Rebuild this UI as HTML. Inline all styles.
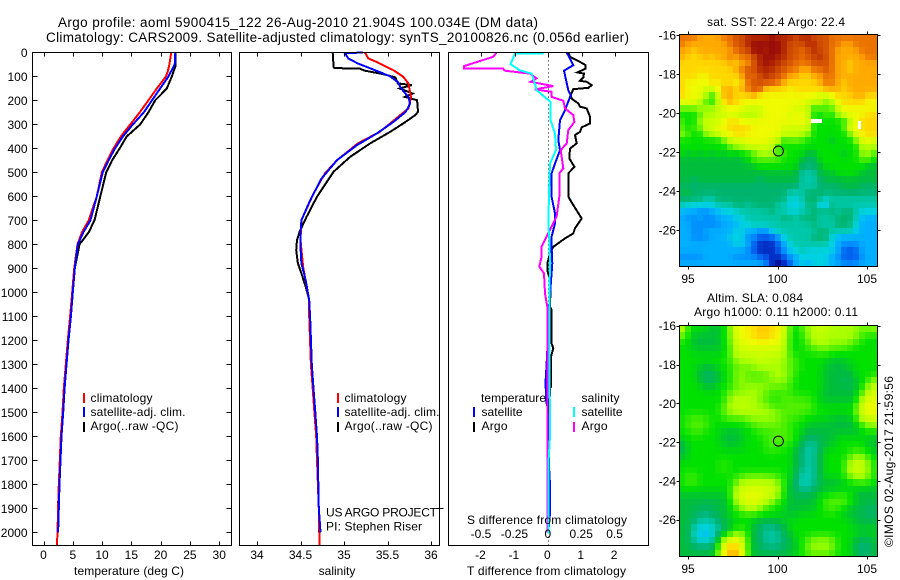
<!DOCTYPE html>
<html>
<head>
<meta charset="utf-8">
<title>Argo profile</title>
<style>
html,body{margin:0;padding:0;background:#fff;}
svg{display:block;}
text{font-family:"Liberation Sans",sans-serif;font-size:12px;fill:#000;}
.t14{font-size:13.5px;}
</style>
</head>
<body>
<svg id="fig" xmlns="http://www.w3.org/2000/svg" width="900" height="580" viewBox="0 0 900 580">
<rect x="0" y="0" width="900" height="580" fill="#fff"/>
<text class="t14" x="58" y="27" textLength="480" lengthAdjust="spacing">Argo profile: aoml 5900415_122 26-Aug-2010 21.904S 100.034E (DM data)</text>
<text class="t14" x="46" y="42" textLength="583" lengthAdjust="spacing">Climatology: CARS2009. Satellite-adjusted climatology: synTS_20100826.nc (0.056d earlier)</text>
<g id="heat"></g>
<g id="series"></g>
<g id="axes" fill="none" stroke="#000" stroke-width="1" shape-rendering="crispEdges"></g>
<g id="labels"></g>

<text x="74" y="575" textLength="110" lengthAdjust="spacing">temperature (deg C)</text>
<text x="337" y="575" text-anchor="middle">salinity</text>
<text x="467" y="575" textLength="159" lengthAdjust="spacing">T difference from climatology</text>
<text x="467" y="524" textLength="160" lengthAdjust="spacing">S difference from climatology</text>

<g shape-rendering="crispEdges">
<rect x="83" y="393" width="2" height="10" fill="#f00"/>
<rect x="83" y="407" width="2" height="10" fill="#00f"/>
<rect x="83" y="422" width="2" height="10" fill="#000"/>
</g>
<text x="90.5" y="402" textLength="62" lengthAdjust="spacing">climatology</text>
<text x="90.5" y="416" textLength="95" lengthAdjust="spacing">satellite-adj. clim.</text>
<text x="90.5" y="430" textLength="88" lengthAdjust="spacing">Argo(..raw -QC)</text>

<g shape-rendering="crispEdges">
<rect x="337" y="393" width="2" height="10" fill="#f00"/>
<rect x="337" y="407" width="2" height="10" fill="#00f"/>
<rect x="337" y="422" width="2" height="10" fill="#000"/>
</g>
<text x="344.5" y="402" textLength="62" lengthAdjust="spacing">climatology</text>
<text x="344.5" y="416" textLength="95" lengthAdjust="spacing">satellite-adj. clim.</text>
<text x="344.5" y="430" textLength="88" lengthAdjust="spacing">Argo(..raw -QC)</text>

<text x="326" y="516.5" textLength="111" lengthAdjust="spacing">US ARGO PROJECT</text>
<text x="326" y="530.5" textLength="96" lengthAdjust="spacing">PI: Stephen Riser</text>

<g shape-rendering="crispEdges">
<rect x="473" y="407" width="2" height="10" fill="#00f"/>
<rect x="473" y="422" width="2" height="10" fill="#000"/>
<rect x="573" y="407" width="2" height="10" fill="#0ff"/>
<rect x="573" y="422" width="2" height="10" fill="#f0f"/>
</g>
<text x="481" y="402" textLength="65" lengthAdjust="spacing">temperature</text>
<text x="481.5" y="416" textLength="41" lengthAdjust="spacing">satellite</text>
<text x="481.5" y="430" textLength="26" lengthAdjust="spacing">Argo</text>
<text x="581.5" y="402" textLength="38" lengthAdjust="spacing">salinity</text>
<text x="581.5" y="416" textLength="41" lengthAdjust="spacing">satellite</text>
<text x="581.5" y="430" textLength="26" lengthAdjust="spacing">Argo</text>

<text x="707" y="26" textLength="138" lengthAdjust="spacing">sat. SST: 22.4 Argo: 22.4</text>
<text x="707" y="302" textLength="96" lengthAdjust="spacing">Altim. SLA: 0.084</text>
<text x="694" y="316" textLength="164" lengthAdjust="spacing">Argo h1000: 0.11 h2000: 0.11</text>
<text transform="translate(893 547) rotate(-90)" textLength="171" lengthAdjust="spacing">©IMOS 02-Aug-2017 21:59:56</text>
</svg>

<script>
/* ---------- temperature profile data ---------- */
const tempClimDepth = [0,50,80,100,150,200,250,300,350,400,450,500,600,700,750,800,900,1000,1100,1200,1300,1400,1500,1600,1700,1800,1900,2000,2056];
const tempClim = [21.8,21.5,21.2,20.9,19.35,17.9,16.4,14.8,13.2,11.95,10.9,9.96,9.1,7.7,6.55,5.8,5.24,4.9,4.55,4.15,3.8,3.47,3.24,2.96,2.79,2.62,2.5,2.39,2.28];
const tempSatDepth = [0,50,80,100,150,200,250,300,350,400,450,500,600,700,750,800,900,1000,1100,1200,1300,1400,1500,1600,1700,1800,1900,2000];
const tempSat = [22.5,22.4,21.75,21.35,19.9,18.5,17.1,15.25,13.55,12.2,11.1,10.1,9.1,8,6.8,5.86,5.35,5,4.67,4.27,3.93,3.6,3.36,3.07,2.9,2.73,2.62,2.5];
const tempArgoDepth = [0,55,100,150,200,250,300,350,400,450,500,600,700,750,800,900,1000,1100,1200,1300,1400,1500,1600,1700,1800,1900,2000];
const tempArgo = [22.5,22.55,21.9,21.05,19.05,17.9,16.5,14.2,13,11.7,10.7,9.7,8.7,7.7,6.15,5.35,5,4.6,4.25,3.9,3.55,3.3,3.05,2.85,2.7,2.45,2.45];

/* ---------- salinity profile data ---------- */
const salClimDepth = [0,25,39,74,101,129,185,233,275,331,379,449,504,588,699,782,893,976,1032,1100,1300,1400,1500,1600,1700,1800,1900,2056];
const salClim = [35.24,35.28,35.375,35.57,35.68,35.74,35.77,35.74,35.6,35.41,35.16,34.92,34.78,34.65,34.51,34.5,34.53,34.57,34.6,34.6,34.62,34.64,34.66,34.68,34.69,34.7,34.71,34.72];
const salSatDepth = [0,3,25,46,74,99,124,151,185,213,247,289,338,386,449,526,617,699,753,810,879,949,1032,1100,1300,1400,1500,1600,1700,1800,1900,2000];
const salSat = [35.22,35.01,35.05,35.16,35.36,35.53,35.62,35.66,35.74,35.76,35.71,35.57,35.375,35.15,34.92,34.74,34.61,34.51,34.5,34.5,34.51,34.56,34.6,34.61,34.63,34.65,34.67,34.69,34.7,34.705,34.71,34.73];
const salArgoDepth = [0,60,65,67,76,90,104,129,136,150,171,185,199,247,261,296,331,379,435,497,601,685,747,782,824,879,921,976,1032,1100,1300,1400,1500,1600,1700,1800,1900,2000];
const salArgo = [34.87,34.88,34.89,35.18,35.24,35.45,35.59,35.62,35.78,35.64,35.79,35.7,35.84,35.85,35.82,35.68,35.53,35.3,35.07,34.88,34.69,34.57,34.49,34.46,34.45,34.47,34.51,34.56,34.6,34.6,34.62,34.64,34.66,34.68,34.69,34.7,34.71,34.71];

/* ---------- difference panel data ---------- */
const dtArgoDepth = [0,18,39,53,67,83,88,104,118,122,136,147,153,178,192,213,226,233,268,296,312,331,344,379,400,442,476,504,601,636,692,733,754,775,810,824,838,879,907,949,976,1060,1074,1213,1233,1268,1393,1400,1500,1700,2000];
const dtArgo = [0.6,0.65,0.95,1.12,1.12,0.87,1.07,1.05,0.95,1.15,1.3,1.2,0.75,0.67,0.7,0.9,0.95,1.15,1.25,1.25,1,0.95,0.8,0.85,0.65,0.63,0.78,0.6,0.6,0.75,1,0.8,0.75,0.5,0.15,0.1,0.05,-0.03,-0.03,0.05,0.07,0.05,0.1,0.1,0.15,0.08,0.08,0.05,0.03,0.02,0];
const dtSatDepth = [0,53,76,157,178,240,282,365,407,463,504,601,671,713,768,810,879,976,1100,1240,1300,1370,1450,1480,1600,1750,1800,1920,2000];
const dtSat = [0.55,0.75,0.47,0.6,0.67,0.5,0.35,0.3,0.35,0.2,0.1,0.1,0.2,0.2,0.1,0.1,0.12,0.07,0,-0.03,-0.05,-0.08,-0.07,-0.02,0,0.03,0.05,0.05,0];
const dsArgoDepth = [0,18,57,67,67,76,88,108,122,140,154,164,185,201,233,261,289,324,379,407,483,504,601,685,726,768,810,851,893,921,1004,1060,2000];
const dsArgo = [-0.3875,-0.4125,-0.6325,-0.6325,-0.3375,-0.325,-0.1375,-0.0875,-0.1325,0.0375,-0.1,0.025,0.025,0.1125,0.125,0.1875,0.195,0.15,0.1375,0.0925,0.1125,0.0825,0.0825,0.0625,0.025,-0.0125,-0.05,-0.05,-0.0675,-0.0325,-0.025,-0.0075,-0.005];
const dsSatDepth = [4,4,49,74,88,129,157,192,206,282,338,407,463,546,713,783,865,1060,1300,1520,1600,1700,2004];
const dsSat = [-0.0375,-0.25,-0.2825,-0.2125,-0.125,-0.1,-0.0875,-0.0125,0.0175,0.0175,0.05,0.0575,0.0125,0.0075,0,0.0075,0.0125,0.0075,0.0075,0.0125,0.0125,0.0025,0.0025];

/* ---------- tick labels ---------- */
const depthTicks = [0,100,200,300,400,500,600,700,800,900,1000,1100,1200,1300,1400,1500,1600,1700,1800,1900,2000];
const tempTicks = [0,5,10,15,20,25,30];
const salTicks = [34,34.5,35,35.5,36];
const dtTicks = [-2,-1,0,1,2];
const dsTicks = [-0.5,-0.25,0,0.25,0.5];
const lonTicks = [95,100,105];
const latTicks = [-16,-18,-20,-22,-24,-26];

/* ---------- map data: colour level per cell, row = latitude from north, col = longitude from west ---------- */
const sstLevels = [
[16,16,16,15,15,15,15,16,16,17,17,18,18,18,18,19,18,18,18,17,18,18,17,17,17,16,16,16,16,16,16,16,16],
[16,15,15,15,15,15,15,15,16,17,17,18,19,19,19,19,19,18,17,17,17,18,18,17,17,16,16,15,15,16,16,16,16],
[15,15,14,15,15,15,15,15,15,16,17,17,19,19,18,19,19,18,17,17,16,17,18,17,17,16,15,15,15,15,16,16,16],
[15,14,14,14,15,14,15,15,16,15,16,16,17,18,19,19,18,18,17,17,16,17,17,18,17,16,15,15,15,15,15,16,16],
[14,14,14,14,14,14,14,14,15,14,15,15,17,18,19,18,18,17,17,16,16,16,17,17,17,16,15,15,14,15,15,15,15],
[14,14,14,14,14,14,14,14,14,15,16,17,17,18,18,18,17,17,16,16,15,15,16,16,17,16,15,15,14,15,15,15,15],
[14,14,14,13,13,14,14,14,14,14,15,17,16,17,18,17,17,16,15,15,14,14,15,15,16,16,15,15,15,15,15,15,15],
[14,13,13,13,13,14,13,14,14,13,14,16,17,17,17,17,16,15,14,14,14,14,14,15,16,16,15,14,15,15,15,15,15],
[14,13,13,13,12,12,13,15,15,14,15,16,17,17,14,14,14,14,13,14,14,14,14,14,15,15,15,14,15,15,15,15,15],
[14,13,13,13,11,9,12,15,15,14,14,14,15,13,13,13,13,13,13,13,13,13,13,12,12,13,14,14,14,15,15,14,14],
[13,13,13,11,10,9,11,14,15,14,13,13,13,13,13,13,13,13,13,13,13,12,12,12,10,11,13,14,14,14,14,13,13],
[10,10,10,11,11,11,12,12,13,13,13,12,12,12,13,13,13,13,13,12,12,12,9,10,10,10,12,13,13,13,13,13,13],
[9,9,9,10,11,11,12,12,12,12,11,11,11,12,13,13,13,13,12,13,13,12,9,9,10,9,11,12,13,13,13,14,14],
[10,9,9,11,12,12,12,13,14,14,13,13,13,13,13,13,13,13,13,13,13,13,9,9,9,9,9,9,11,13,14,14,14],
[10,9,10,10,12,12,13,13,14,14,14,14,13,13,13,13,13,12,12,12,12,12,9,9,9,9,9,10,13,13,14,14,14],
[11,10,9,9,11,11,12,13,13,14,14,13,13,13,13,13,13,12,12,12,11,11,9,9,9,9,9,9,10,13,13,14,14],
[9,9,9,9,9,9,9,10,12,12,12,13,13,13,13,12,12,9,10,10,10,9,9,9,9,8,9,9,9,10,13,13,12],
[9,9,9,9,9,9,9,9,10,11,11,12,12,12,12,12,9,9,9,9,9,9,9,9,9,9,9,9,9,9,11,11,11],
[9,8,9,8,9,8,9,8,9,8,9,9,10,11,11,11,10,10,9,9,9,8,8,9,9,9,9,8,9,9,11,11,10],
[8,8,8,8,8,8,8,8,8,8,8,9,10,10,10,10,10,9,9,9,8,7,7,9,9,9,9,9,9,9,10,10,9],
[8,8,8,8,8,8,8,8,8,8,8,8,8,9,9,9,9,9,9,9,7,7,7,8,9,9,9,9,9,9,9,8,8],
[8,8,8,8,8,8,8,8,8,8,8,8,8,8,8,8,8,8,8,8,6,6,6,8,8,8,9,9,9,9,8,8,8],
[8,8,7,8,8,8,8,8,8,8,8,8,8,7,8,8,8,8,8,8,6,6,6,7,8,8,8,8,8,8,8,8,8],
[7,7,7,7,7,7,7,7,7,7,7,7,7,7,7,7,7,7,7,7,6,6,6,7,7,7,7,8,8,8,7,7,7],
[8,8,7,7,7,7,7,7,7,7,7,7,7,7,7,7,7,7,6,6,6,7,7,7,7,7,7,7,7,7,7,7,7],
[7,7,7,7,6,6,7,7,7,7,7,7,7,7,7,7,7,7,5,5,6,7,7,7,5,6,6,6,6,6,6,6,6],
[6,5,5,5,5,5,6,6,6,7,7,6,7,7,7,7,6,6,5,5,5,7,7,4,4,7,6,6,6,6,6,6,6],
[4,4,4,3,3,4,4,5,5,5,6,6,6,6,6,7,6,6,5,5,6,6,7,7,7,7,6,7,7,6,5,5,5],
[4,3,3,4,3,3,4,4,4,5,5,6,6,6,6,6,6,7,7,6,7,7,7,6,6,6,7,7,7,6,4,4,4],
[4,4,3,3,3,3,3,4,4,4,5,5,6,6,6,6,6,6,6,6,6,6,7,6,6,6,7,7,7,5,4,4,4],
[4,4,3,3,4,4,4,4,4,5,5,4,4,3,3,5,6,6,6,6,6,6,6,7,7,6,6,6,6,5,4,4,4],
[4,4,3,3,3,4,4,4,5,5,5,3,3,2,2,2,3,5,6,6,6,6,7,7,7,5,4,4,4,4,4,4,4],
[4,4,4,4,4,4,4,4,4,5,5,4,2,1,1,1,2,4,5,6,6,6,6,6,6,5,4,3,3,3,4,4,4],
[4,4,4,4,4,4,4,4,4,4,4,3,2,1,1,1,2,3,5,5,6,5,5,5,5,5,4,2,2,2,4,4,4],
[3,3,3,3,4,4,4,4,4,3,3,3,3,2,2,1,1,2,3,4,5,5,5,5,5,4,3,2,2,2,3,4,4],
[4,4,4,4,4,4,4,4,4,4,4,4,4,4,3,1,0,1,2,4,5,4,5,5,5,4,4,3,3,3,4,4,4]
];
const slaLevels = [
[12,9,9,9,9,8,8,9,10,13,13,13,14,14,14,14,13,13,9,9,10,11,11,12,12,11,11,11,11,11,10,11,11],
[11,9,8,8,8,8,8,9,10,13,13,13,14,15,15,14,13,13,9,9,9,11,12,12,11,11,11,11,11,11,10,9,9],
[9,9,8,8,8,8,8,9,10,12,13,13,13,13,13,13,13,12,9,9,9,10,11,11,11,11,11,11,11,10,9,9,9],
[9,9,8,8,8,8,8,8,10,12,12,12,12,12,12,12,12,12,9,9,9,10,10,11,11,10,10,10,9,9,9,9,9],
[9,9,9,9,9,9,9,9,10,11,12,12,12,12,12,12,12,11,10,9,9,9,9,9,9,9,9,9,9,9,9,9,9],
[9,9,9,9,9,9,9,9,10,11,11,11,11,12,12,11,11,11,10,10,9,9,9,9,9,8,8,8,9,9,9,9,9],
[9,9,9,8,8,8,9,9,9,10,10,10,11,11,11,11,11,11,10,10,9,9,9,9,8,8,8,8,8,9,9,9,9],
[9,9,9,8,7,7,8,9,9,11,11,10,10,10,10,11,11,11,10,9,9,9,9,9,8,8,8,8,8,9,9,9,9],
[9,9,9,8,7,7,8,9,9,11,11,10,10,10,10,11,11,11,11,9,9,9,9,9,8,8,8,7,7,8,9,9,11],
[9,9,9,9,8,8,9,9,9,10,10,11,11,11,11,10,10,10,9,9,9,9,9,9,8,8,8,8,8,8,9,11,12],
[9,9,9,9,9,9,9,9,11,11,11,11,11,11,10,10,10,10,10,9,9,9,9,9,8,8,8,8,8,8,10,12,12],
[9,9,9,9,9,9,9,9,11,11,11,11,11,10,10,9,9,10,10,10,10,10,9,8,8,8,8,8,8,8,12,12,13],
[9,9,9,9,9,9,9,10,11,12,12,12,11,11,11,10,10,10,10,10,10,10,10,9,9,9,9,9,9,9,13,13,13],
[9,9,9,9,9,9,9,11,11,11,11,11,11,11,11,11,10,10,10,10,10,10,9,9,9,9,9,9,9,10,13,13,13],
[9,10,10,10,10,9,9,9,10,10,10,11,11,11,11,11,11,10,10,10,9,9,9,9,9,8,8,8,8,9,12,12,12],
[9,10,10,10,10,9,9,9,9,9,9,9,10,10,10,10,10,10,9,9,9,8,8,8,8,8,8,8,8,8,10,11,11],
[9,9,10,10,9,9,9,8,8,8,8,9,9,10,10,10,10,10,10,9,9,8,8,8,8,8,8,8,8,8,8,9,9],
[9,9,9,9,9,9,9,8,8,8,9,9,9,9,9,10,10,10,10,9,8,7,7,8,8,8,9,9,9,9,9,9,8],
[7,9,9,9,9,9,9,8,8,8,8,9,9,9,10,10,10,10,9,9,8,6,6,7,8,8,9,9,9,9,9,8,8],
[7,9,9,9,9,9,9,9,9,9,9,9,9,9,9,10,9,9,9,8,6,6,6,8,9,9,9,9,9,10,9,9,8],
[8,9,9,9,9,9,9,9,9,9,9,9,9,9,9,9,9,9,9,8,7,6,6,8,9,9,9,9,10,11,11,10,9],
[9,9,9,9,9,9,9,10,9,9,9,9,9,9,9,9,9,9,9,8,7,6,6,8,9,9,9,9,12,12,12,11,9],
[9,9,9,9,9,9,9,10,9,9,9,9,9,9,9,9,9,9,9,8,6,6,6,8,9,9,9,9,12,12,12,11,9],
[9,10,10,9,9,9,9,9,9,9,10,10,10,10,10,10,10,9,9,7,6,6,6,8,9,9,9,9,11,11,11,11,9],
[9,10,10,9,9,9,9,9,9,11,11,12,12,12,12,11,11,9,9,7,5,6,6,8,8,8,8,9,9,10,10,10,9],
[9,9,9,9,9,9,9,9,9,11,12,12,12,12,12,12,12,9,8,7,6,6,7,8,8,8,8,8,8,8,8,8,8],
[8,8,8,8,8,8,8,8,9,12,13,13,13,13,12,12,11,9,8,8,8,8,8,9,9,10,10,10,10,8,8,8,8],
[8,8,8,8,8,8,8,8,9,11,12,12,13,12,12,10,10,9,8,8,8,8,8,9,10,10,10,10,10,8,8,8,8],
[8,8,8,7,7,7,8,8,8,10,11,12,12,10,10,9,9,8,8,8,8,8,8,9,10,10,10,9,8,8,8,7,7],
[8,8,7,7,7,7,8,8,9,9,9,9,10,9,9,9,9,9,8,8,9,9,9,9,9,9,9,8,8,8,7,7,7],
[8,8,7,6,6,6,7,8,8,9,9,9,8,8,8,8,8,8,9,9,9,9,9,9,9,9,9,9,9,8,8,8,8],
[8,8,6,5,5,5,6,7,8,9,9,9,8,7,6,6,7,8,9,9,9,9,9,9,9,9,9,9,9,8,8,8,8],
[8,8,5,4,4,5,7,8,9,11,11,9,8,7,6,6,6,7,8,9,9,9,9,9,9,9,9,9,9,9,9,9,9],
[8,8,6,5,5,5,8,13,13,13,13,9,8,7,7,6,7,7,8,9,9,10,11,11,11,11,9,9,9,8,7,7,8],
[8,8,7,7,7,7,9,13,14,14,13,9,8,7,6,6,6,7,8,8,9,11,11,11,11,11,9,9,9,7,6,7,8],
[8,8,8,8,8,8,10,14,15,15,14,9,8,8,8,8,8,8,8,9,9,10,10,10,10,10,9,9,9,8,7,7,8]
];
const missingLon = [101.85,101.97,102.08,102.2,102.32,104.5];
const missingLat = [-20.3,-20.3,-20.3,-20.3,-20.3,-20.4];
const profileLon = 100.05;
const profileLat = -21.95;

/* ---------- scales ---------- */
const NS = 'http://www.w3.org/2000/svg';
const yDepth = d => 52.5 + d * 0.2399;
const xTemp = v => 43.5 + v * 5.857;
const xSal = v => 257 + (v - 34) * 87;
const xDT = v => 548.3 + v * 33.4;
const xDS = v => 548.3 + v * 133.6;
const xLon = v => 777.5 + (v - 100) * 17.9;
const yLatTop = v => 35 + (-16 - v) * 19.5;
const yLatBot = v => 325.7 + (-16 - v) * 19.4;
const LON0 = 94.514, DLON = 0.3352, LAT0 = -15.96, DLAT = 0.331, LAT0B = -16, DLATB = 0.33;
const ramp = [[0,0,130],[0,40,190],[0,90,235],[0,140,255],[0,175,255],[0,210,225],[0,200,170],[0,180,110],[0,190,60],[0,225,0],[80,240,0],[170,255,0],[205,255,0],[240,250,0],[255,215,0],[255,170,0],[235,115,0],[210,80,0],[180,40,0],[150,10,10]];
function colorOf(level){
  const l = Math.max(0, Math.min(ramp.length - 1, level));
  const a = Math.floor(l), b = Math.min(ramp.length - 1, a + 1), f = l - a;
  const c = ramp[a].map((q, i) => Math.round(q + (ramp[b][i] - q) * f));
  return 'rgb(' + c.join(',') + ')';
}
/* display blur of the cell levels: the reference maps are shaded continuously */
function blurred(levels, r, c, side){
  let sum = 0, wt = 0;
  for (let i = -1; i <= 1; i++) {
    for (let j = -1; j <= 1; j++) {
      const row = levels[Math.max(0, Math.min(levels.length - 1, r + i))];
      const v = row[Math.max(0, Math.min(row.length - 1, c + j))];
      const w = (i === 0 ? 1 : side) * (j === 0 ? 1 : side);
      sum += v * w;
      wt += w;
    }
  }
  return sum / wt;
}

const heat = document.getElementById('heat');
const seriesG = document.getElementById('series');
const axesG = document.getElementById('axes');
const labelsG = document.getElementById('labels');

function drawMap(levels, lat0, dLat, yLat, name, side){
  const g = document.createElementNS(NS, 'g');
  
  
  g.setAttribute('shape-rendering', 'crispEdges');
  levels.forEach((row, r) => {
    for (let c = 0; c < 33; c++) {
      const v = blurred(levels, r, c, side);
      const x0 = Math.round(xLon(LON0 + c * DLON)), x1 = Math.round(xLon(LON0 + (c + 1) * DLON));
      const y0 = Math.round(yLat(lat0 - r * dLat)), y1 = Math.round(yLat(lat0 - (r + 1) * dLat));
      const el = document.createElementNS(NS, 'rect');
      
      
      el.setAttribute('x', x0);
      el.setAttribute('y', y0);
      el.setAttribute('width', x1 - x0);
      el.setAttribute('height', y1 - y0);
      el.setAttribute('fill', colorOf(v));
      g.appendChild(el);
    }
  });
  heat.appendChild(g);
}
drawMap(sstLevels, LAT0, DLAT, yLatTop, 'sst-heatmap', 0.25);
drawMap(slaLevels, LAT0B, DLATB, yLatBot, 'sla-heatmap', 0.6);

missingLon.forEach((lon, i) => {
  const el = document.createElementNS(NS, 'rect');
  
  
  el.setAttribute('x', Math.round(xLon(lon)));
  el.setAttribute('y', Math.round(yLatTop(missingLat[i])));
  el.setAttribute('width', 3);
  el.setAttribute('height', i === 5 ? 8 : 4);
  el.setAttribute('fill', '#fff');
  el.setAttribute('shape-rendering', 'crispEdges');
  heat.appendChild(el);
});

function drawLine(depths, vals, xf, color, name, w){
  const el = document.createElementNS(NS, 'polyline');
  
  
  el.setAttribute('points', vals.map((v, i) => xf(v).toFixed(1) + ',' + yDepth(depths[i]).toFixed(1)).join(' '));
  el.setAttribute('fill', 'none');
  el.setAttribute('stroke', color);
  el.setAttribute('stroke-width', w || 2);
  el.setAttribute('shape-rendering', 'crispEdges');
  seriesG.appendChild(el);
}

const zero = document.createElementNS(NS, 'line');


zero.setAttribute('x1', Math.round(xDT(0)) + 0.5);
zero.setAttribute('x2', Math.round(xDT(0)) + 0.5);
zero.setAttribute('y1', yDepth(0));
zero.setAttribute('y2', 545);
zero.setAttribute('stroke', '#000');
zero.setAttribute('stroke-dasharray', '1 3');
zero.setAttribute('shape-rendering', 'crispEdges');
seriesG.appendChild(zero);

drawLine(tempArgoDepth, tempArgo, xTemp, '#000', 'temperature-argo-line');
drawLine(tempClimDepth, tempClim, xTemp, '#f00', 'temperature-climatology-line');
drawLine(tempSatDepth, tempSat, xTemp, '#00f', 'temperature-satellite-line');
drawLine(salArgoDepth, salArgo, xSal, '#000', 'salinity-argo-line');
drawLine(salClimDepth, salClim, xSal, '#f00', 'salinity-climatology-line');
drawLine(salSatDepth, salSat, xSal, '#00f', 'salinity-satellite-line');
drawLine(dtArgoDepth, dtArgo, xDT, '#000', 't-difference-argo-line');
drawLine(dtSatDepth, dtSat, xDT, '#00f', 't-difference-satellite-line');
drawLine(dsArgoDepth, dsArgo, xDS, '#f0f', 's-difference-argo-line');
drawLine(dsSatDepth, dsSat, xDS, '#0ff', 's-difference-satellite-line');

function frame(x0, y0, x1, y1, name){
  const el = document.createElementNS(NS, 'rect');
  
  
  el.setAttribute('x', x0);
  el.setAttribute('y', y0);
  el.setAttribute('width', x1 - x0);
  el.setAttribute('height', y1 - y0);
  axesG.appendChild(el);
}
function tick(x1, y1, x2, y2, name){
  const el = document.createElementNS(NS, 'line');
  
  
  el.setAttribute('x1', x1);
  el.setAttribute('y1', y1);
  el.setAttribute('x2', x2);
  el.setAttribute('y2', y2);
  axesG.appendChild(el);
}
function label(x, y, str, anchor, name){
  const el = document.createElementNS(NS, 'text');
  
  
  el.setAttribute('x', x);
  el.setAttribute('y', y);
  el.setAttribute('text-anchor', anchor);
  el.textContent = str;
  labelsG.appendChild(el);
}
const snap = v => Math.round(v) + 0.5;

/* panel frames */
const TOP = 52.5, BOT = 545.5;
frame(32.5, TOP, 231.5, BOT, 'temperature-plot-frame');
frame(239.5, TOP, 439.5, BOT, 'salinity-plot-frame');
frame(448.5, TOP, 648.5, BOT, 'difference-plot-frame');
frame(679.5, 34.5, 877.5, 266.5, 'sst-map-frame');
frame(679.5, 325.5, 877.5, 556.5, 'sla-map-frame');

depthTicks.forEach(d => {
  const y = snap(yDepth(d));
  if (d > 0) {
    tick(32.5, y, 37.5, y, 'depth-tick-left');
    tick(226.5, y, 231.5, y, 'depth-tick-right');
  }
  label(27.5, yDepth(d) + 4.5, String(d), 'end', 'depth-tick-label');
});
tempTicks.forEach(v => {
  const x = snap(xTemp(v));
  tick(x, TOP, x, TOP + 4, 'temperature-tick-top');
  tick(x, BOT - 4, x, BOT, 'temperature-tick-bottom');
  label(xTemp(v), 559, String(v), 'middle', 'temperature-tick-label');
});
salTicks.forEach(v => {
  const x = snap(xSal(v));
  tick(x, TOP, x, TOP + 4, 'salinity-tick-top');
  tick(x, BOT - 4, x, BOT, 'salinity-tick-bottom');
  label(xSal(v), 559, String(v), 'middle', 'salinity-tick-label');
});
tick(436.5, snap(yDepth(1900)), 443.5, snap(yDepth(1900)), 'salinity-stray-tick');
dtTicks.forEach(v => {
  const x = snap(xDT(v));
  tick(x, TOP, x, TOP + 4, 'difference-tick-top');
  label(xDT(v) - 1, 559, String(v), 'middle', 't-difference-tick-label');
});
dsTicks.forEach(v => {
  label(xDS(v) - 0.5, 538, String(v), 'middle', 's-difference-tick-label');
});

[[yLatTop, 34.5, 266.5, 283], [yLatBot, 325.5, 556.5, 573]].forEach(cfg => {
  const yf = cfg[0];
  lonTicks.forEach(v => {
    const x = snap(xLon(v));
    tick(x, cfg[1] - 3, x, cfg[1], 'map-tick-top');
    tick(x, cfg[2], x, cfg[2] + 3, 'map-tick-bottom');
    label(xLon(v), cfg[3], String(v), 'middle', 'longitude-tick-label');
  });
  latTicks.forEach(v => {
    const y = snap(yf(v));
    tick(676.5, y, 679.5, y, 'map-tick-left');
    tick(877.5, y, 880.5, y, 'map-tick-right');
    label(676, yf(v) + 4.5, String(v), 'end', 'latitude-tick-label');
  });
  const c = document.createElementNS(NS, 'circle');
  
  
  c.setAttribute('cx', xLon(profileLon));
  c.setAttribute('cy', yf(profileLat));
  c.setAttribute('r', 5);
  c.setAttribute('fill', 'none');
  c.setAttribute('stroke', '#000');
  seriesG.appendChild(c);
});
</script>
</body>
</html>
